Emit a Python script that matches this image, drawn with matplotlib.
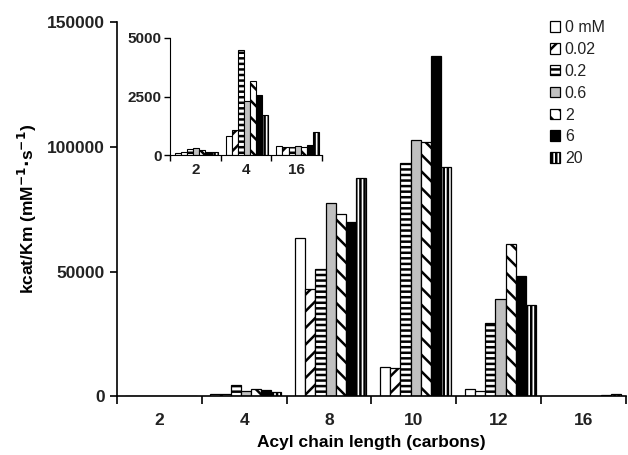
import numpy as np
import matplotlib.pyplot as plt

plt.rcParams['font.family'] = ['Liberation Sans', 'DejaVu Sans']
plt.rcParams['hatch.linewidth'] = 1.8

# chain lengths and substrate concentrations
chains = ['2', '4', '8', '10', '12', '16']
conc = ['0 mM', '0.02', '0.2', '0.6', '2', '6', '20']

# kcat/Km values per concentration, one entry per chain length
v_0 = [100, 800, 63600, 12000, 2800, 380]
v_002 = [150, 1050, 43200, 11500, 2000, 350]
v_02 = [250, 4500, 51200, 93600, 29600, 350]
v_06 = [300, 2300, 77600, 102800, 39200, 380]
v_2 = [200, 3150, 73200, 102000, 61200, 350]
v_6 = [150, 2550, 70000, 136400, 48400, 420]
v_20 = [150, 1700, 87600, 92000, 36800, 1000]
series = [v_0, v_002, v_02, v_06, v_2, v_6, v_20]

# inset shows the small ones
inset_chains = ['2', '4', '16']

styles = [
    dict(color='white', hatch=''),
    dict(color='white', hatch='//'),
    dict(color='white', hatch='---'),
    dict(color='#c0c0c0', hatch=''),
    dict(color='white', hatch='\\\\'),
    dict(color='black', hatch=''),
    dict(color='white', hatch='||||'),
]

fig = plt.figure(figsize=(6.28, 4.55), dpi=100)
ax = fig.add_axes([0.186, 0.1286, 0.811, 0.823])

w = 0.12
x = np.arange(len(chains)) + 0.5
handles = []
for i, vals in enumerate(series):
    off = (i - 3) * w + 0.02
    b = ax.bar(x + off, vals, w, edgecolor='black', linewidth=0.9,
               label=conc[i], **styles[i])
    handles.append(b)

ax.set_xlim(0, len(chains))
ax.set_ylim(0, 150000)
ax.set_yticks([0, 50000, 100000, 150000])
ax.set_xticks(np.arange(len(chains) + 1))
ax.set_xticklabels([])
ax.set_xticks(x, minor=True)
ax.set_xticklabels(chains, minor=True)
ax.tick_params(axis='x', which='minor', length=0, pad=12)
ax.tick_params(axis='x', which='major', length=6, width=1.2)
ax.tick_params(axis='y', length=5, width=1.2)
for lab in ax.get_yticklabels() + ax.get_xticklabels(minor=True):
    lab.set_fontsize(12.5)
    lab.set_fontweight('bold')
    lab.set_color('#222222')
for s in ['top', 'right']:
    ax.spines[s].set_visible(False)
for s in ['left', 'bottom']:
    ax.spines[s].set_linewidth(1.2)
ax.set_xlabel('Acyl chain length (carbons)', fontsize=12.5, fontweight='bold', labelpad=5)
ax.set_ylabel('kcat/Km (mM$^{\\mathbf{-1}}$$\\mathbf{\\cdot}$s$^{\\mathbf{-1}}$)',
              fontsize=12.5, fontweight='bold', labelpad=6)

leg = fig.legend(handles=handles, labels=conc, loc='upper left',
                 bbox_to_anchor=(0.865, 0.97), frameon=False, fontsize=11.5,
                 handlelength=0.65, handleheight=0.65, handletextpad=0.3,
                 labelspacing=0.43, borderaxespad=0)
for t in leg.get_texts():
    t.set_color('#222222')

# inset
ins = fig.add_axes([0.2707, 0.6593, 0.242, 0.2572])
idx = [chains.index(c) for c in inset_chains]
xi = np.arange(len(inset_chains)) + 0.5
for i, vals in enumerate(series):
    off = (i - 3) * w + 0.02
    ins.bar(xi + off, [vals[j] for j in idx], w, edgecolor='black',
            linewidth=0.8, **styles[i])
ins.set_xlim(0, len(inset_chains))
ins.set_ylim(0, 5000)
ins.set_yticks([0, 2500, 5000])
ins.set_xticks(np.arange(len(inset_chains) + 1))
ins.set_xticklabels([])
ins.set_xticks(xi, minor=True)
ins.set_xticklabels(inset_chains, minor=True)
ins.tick_params(axis='x', which='minor', length=0, pad=6)
ins.tick_params(axis='x', which='major', length=4, width=1)
ins.tick_params(axis='y', length=4, width=1, pad=2)
for lab in ins.get_yticklabels() + ins.get_xticklabels(minor=True):
    lab.set_fontsize(11)
    lab.set_fontweight('bold')
    lab.set_color('#222222')
for s in ['top', 'right']:
    ins.spines[s].set_visible(False)

fig.savefig('out.png', dpi=100)
